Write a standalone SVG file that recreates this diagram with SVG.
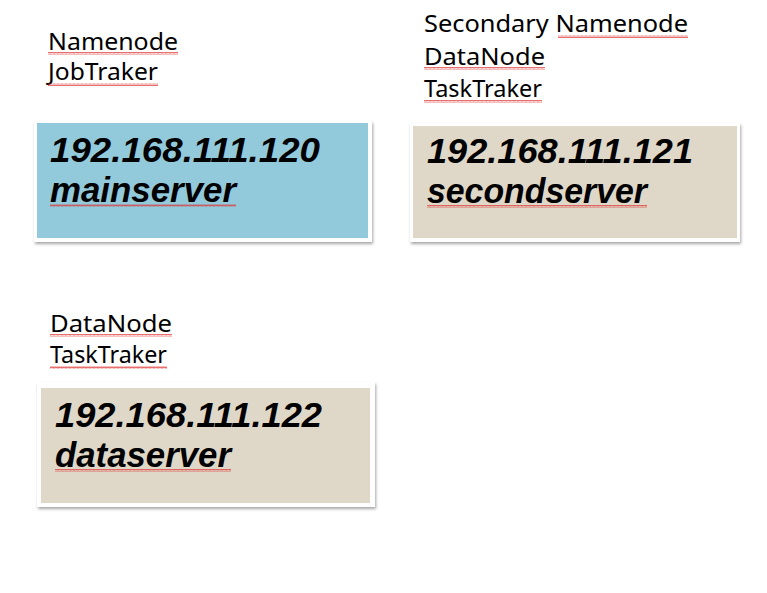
<svg xmlns="http://www.w3.org/2000/svg" width="767" height="593" viewBox="0 0 767 593">
<style>
.lbl{font-family:"Noto Sans","Open Sans",sans-serif;font-size:24px;fill:#000}
.big{font-family:"Liberation Sans",Arial,sans-serif;font-size:35px;font-weight:bold;font-style:italic;fill:#000}
.frame{fill:#fff;filter:url(#sh)}
.blue{fill:#92CADC}
.tan{fill:#DFD8C8}
.wave{fill:url(#wv)}
</style>
<defs>
<filter id="sh" x="-5%" y="-10%" width="110%" height="125%">
<feDropShadow dx="1" dy="2" stdDeviation="1.5" flood-color="#000" flood-opacity="0.35"/>
</filter>
<pattern id="wv" width="4" height="3" patternUnits="userSpaceOnUse">
<path d="M0 2.5 L1 0.5 L2 2.5 L3 0.5 L4 2.5" fill="none" stroke="#E03030" stroke-width="0.7"/>
</pattern>
</defs>
<g id="connectors"></g>
<g id="mainserver">
<text class="lbl" x="48" y="50" textLength="130" lengthAdjust="spacingAndGlyphs">Namenode</text>
<rect class="wave" x="48" y="52" width="130" height="3"/>
<text class="lbl" x="48" y="80" textLength="110" lengthAdjust="spacingAndGlyphs">JobTraker</text>
<rect class="wave" x="48" y="83" width="110" height="3"/>
<rect class="frame" x="34" y="121" width="338" height="121"/>
<rect class="blue" x="37" y="123" width="331" height="115"/>
<text class="big" x="50" y="162" textLength="270" lengthAdjust="spacingAndGlyphs">192.168.111.120</text>
<text class="big" x="50" y="202" textLength="186" lengthAdjust="spacingAndGlyphs">mainserver</text>
<rect class="wave" x="50" y="204" width="186" height="3"/>
</g>
<g id="secondserver">
<text class="lbl" x="424" y="32" textLength="264" lengthAdjust="spacingAndGlyphs">Secondary  Namenode</text>
<rect class="wave" x="558" y="35" width="130" height="3"/>
<text class="lbl" x="424" y="65" textLength="121" lengthAdjust="spacingAndGlyphs">DataNode</text>
<rect class="wave" x="424" y="67" width="121" height="3"/>
<text class="lbl" x="424" y="97" textLength="118" lengthAdjust="spacingAndGlyphs">TaskTraker</text>
<rect class="wave" x="424" y="100" width="118" height="3"/>
<rect class="frame" x="410" y="123" width="330" height="119"/>
<rect class="tan" x="413" y="126" width="324" height="112"/>
<text class="big" x="427" y="163" textLength="266" lengthAdjust="spacingAndGlyphs">192.168.111.121</text>
<text class="big" x="427" y="203" textLength="220" lengthAdjust="spacingAndGlyphs">secondserver</text>
<rect class="wave" x="427" y="205" width="220" height="3"/>
</g>
<g id="dataserver">
<text class="lbl" x="50" y="332" textLength="122" lengthAdjust="spacingAndGlyphs">DataNode</text>
<rect class="wave" x="50" y="334" width="122" height="3"/>
<text class="lbl" x="50" y="363" textLength="117" lengthAdjust="spacingAndGlyphs">TaskTraker</text>
<rect class="wave" x="50" y="366" width="117" height="3"/>
<rect class="frame" x="37" y="382" width="338" height="125"/>
<rect class="tan" x="41" y="388" width="329" height="115"/>
<text class="big" x="55" y="427" textLength="267" lengthAdjust="spacingAndGlyphs">192.168.111.122</text>
<text class="big" x="55" y="467" textLength="176" lengthAdjust="spacingAndGlyphs">dataserver</text>
<rect class="wave" x="55" y="469" width="176" height="3"/>
</g>
</svg>
